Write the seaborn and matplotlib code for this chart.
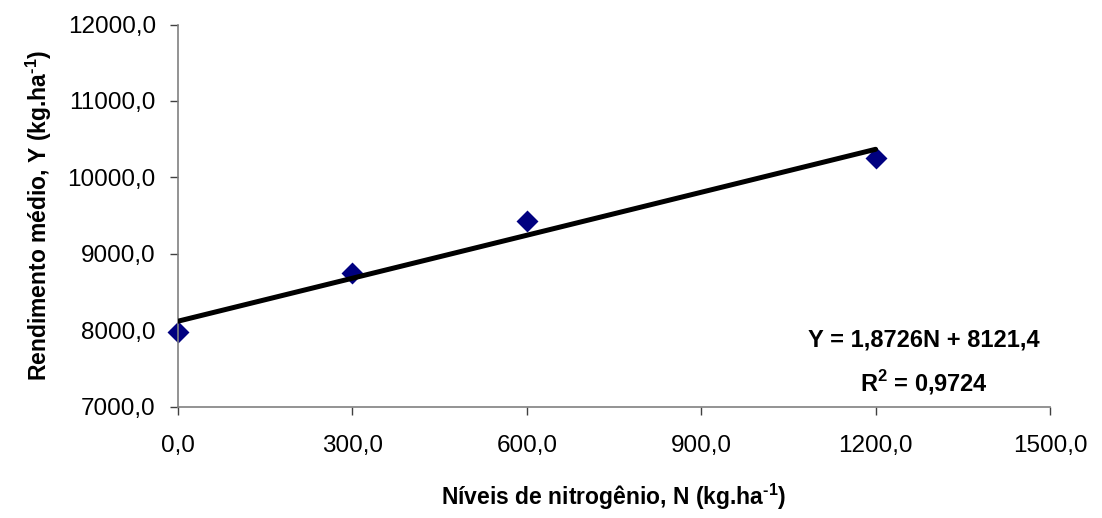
import matplotlib
matplotlib.use("Agg")
import matplotlib.pyplot as plt
import seaborn as sns
import numpy as np
import pandas as pd

# Data
nitrogen = [0, 300, 600, 1200]
yield_mean = [7976, 8756, 9435, 10251]
slope = 1.8726
intercept = 8121.4
r2 = 0.9724
x_ticks = [0, 300, 600, 900, 1200, 1500]
y_ticks = [7000, 8000, 9000, 10000, 11000, 12000]

sns.set_theme(style="white")
plt.rcParams['font.family'] = ['Liberation Sans', 'DejaVu Sans']
plt.rcParams['mathtext.fontset'] = 'custom'
plt.rcParams['mathtext.rm'] = 'Liberation Sans:bold'
plt.rcParams['mathtext.bf'] = 'Liberation Sans:bold'
plt.rcParams['text.color'] = 'black'
plt.rcParams['axes.labelcolor'] = 'black'
plt.rcParams['xtick.color'] = 'black'
plt.rcParams['ytick.color'] = 'black'

fig = plt.figure(figsize=(11.02, 5.18), dpi=100)
ax = fig.add_axes([0.1615, 0.2143, 0.9528 - 0.1615, 0.9527 - 0.2143])

df = pd.DataFrame({"N": nitrogen, "Y": yield_mean})
fit_x = np.array([min(nitrogen), max(nitrogen)])
fit_df = pd.DataFrame({"N": fit_x, "Y": slope * fit_x + intercept})

sns.lineplot(data=fit_df, x="N", y="Y", ax=ax, color="black", linewidth=3.6, zorder=3)
sns.scatterplot(data=df, x="N", y="Y", ax=ax, marker="D", s=125, color="#000080",
                edgecolor="#000080", linewidth=0, zorder=2, clip_on=False)

ax.set_xlim(0, 1500)
ax.set_ylim(7000, 12000)
ax.set_xticks(x_ticks)
ax.set_yticks(y_ticks)
ax.set_xticklabels([f"{v:.1f}".replace(".", ",") for v in x_ticks])
ax.set_yticklabels([f"{v:.1f}".replace(".", ",") for v in y_ticks])

for s in ["top", "right"]:
    ax.spines[s].set_visible(False)
for s in ["left", "bottom"]:
    ax.spines[s].set_color("#808080")
    ax.spines[s].set_linewidth(1.2)

ax.tick_params(axis="both", which="major", direction="out", length=6, width=1,
               color="#404040", labelsize=17.5, labelcolor="black",
               bottom=True, left=True)
ax.tick_params(axis="y", pad=10)
ax.tick_params(axis="x", pad=14)

ax.set_xlabel(r"Níveis de nitrogênio, N (kg.ha$^{\text{-1}}$)", fontsize=16.5,
              fontweight="bold", labelpad=18, color="black")
ax.set_ylabel(r"Rendimento médio, Y (kg.ha$^{\text{-1}}$)", fontsize=16.5,
              fontweight="bold", labelpad=10, color="black")

eq = f"Y = {slope:.4f}N + {intercept:.1f}".replace(".", ",")
r2t = r"R$^{\text{2}}$ = " + f"{r2:.4f}".replace(".", ",")
ax.text(0.855, 0.175, eq, transform=ax.transAxes, ha="center", va="center",
        fontsize=17, fontweight="bold", color="black")
ax.text(0.855, 0.065, r2t, transform=ax.transAxes, ha="center", va="center",
        fontsize=17, fontweight="bold", color="black")

fig.savefig("out.png", dpi=100)
